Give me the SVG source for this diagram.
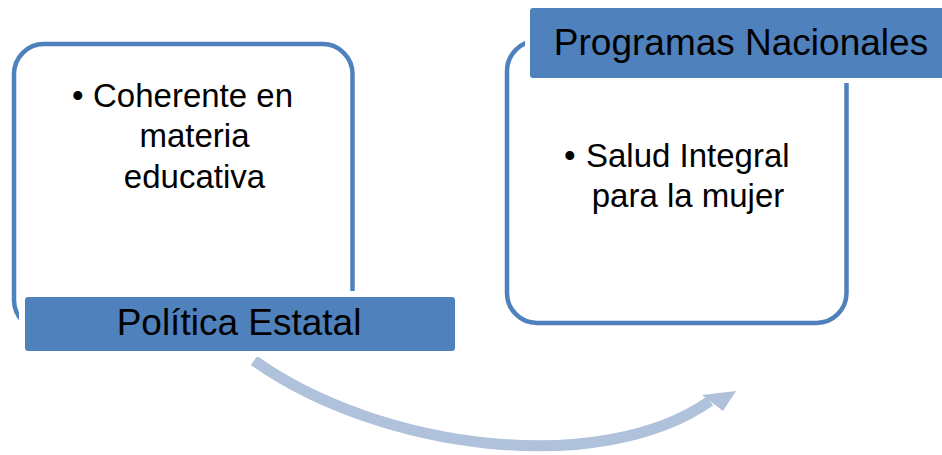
<svg xmlns="http://www.w3.org/2000/svg" width="942" height="455" viewBox="0 0 942 455">
<defs>
<style>
.box{fill:#FFFFFF;stroke:#4F81BD;stroke-width:4.5}
.pad{fill:#FFFFFF}
.lab{fill:#4F81BD;stroke:none}
.lt{font-family:"Liberation Sans",Arial,sans-serif;font-size:37px;fill:#000000}
.bt{font-family:"Liberation Sans",Arial,sans-serif;font-size:33px;fill:#000000}
.arr{fill:none;stroke:#B0C1DC;stroke-width:11}
.head{fill:#B0C1DC}
</style>
</defs>
<rect width="942" height="455" fill="#FFFFFF"/>
<g id="connectors">
<path class="arr" d="M254,360.5 C380,450 600,478 710,401"/>
<polygon class="head" points="736,391 702,395 723,411"/>
</g>
<g id="node-politica">
<rect class="box" x="14" y="44" width="338.5" height="286" rx="30" ry="30"/>
<rect class="pad" x="19" y="291" width="442" height="66"/>
<rect class="lab" x="25" y="297" width="430" height="54" rx="3" ry="3"/>
<text class="lt" x="239" y="335" text-anchor="middle">Política Estatal</text>
<text class="bt" x="72" y="107">•</text>
<text class="bt" x="93" y="107">Coherente en</text>
<text class="bt" x="194.5" y="147" text-anchor="middle">materia</text>
<text class="bt" x="194.5" y="188" text-anchor="middle">educativa</text>
</g>
<g id="node-programas">
<rect class="box" x="507" y="41" width="339.5" height="282" rx="30" ry="30"/>
<rect class="pad" x="525" y="3" width="430" height="80"/>
<rect class="lab" x="530" y="8" width="430" height="70" rx="3" ry="3"/>
<text class="lt" x="741" y="55" text-anchor="middle">Programas Nacionales</text>
<text class="bt" x="564" y="167">•</text>
<text class="bt" x="586" y="167">Salud Integral</text>
<text class="bt" x="688" y="207" text-anchor="middle">para la mujer</text>
</g>
</svg>
